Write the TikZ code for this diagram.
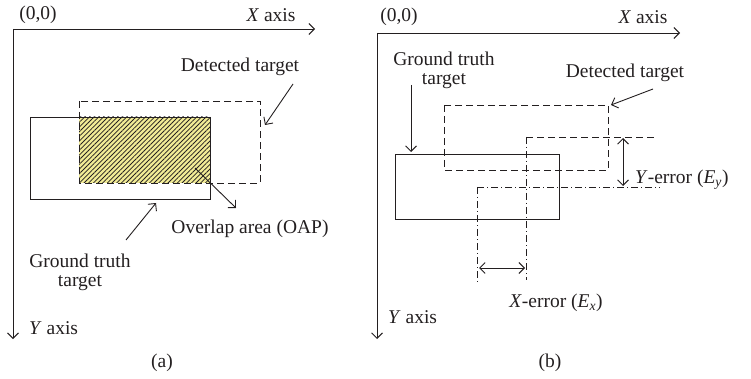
\documentclass[tikz,border=0pt]{standalone}
\usepackage{fontspec}
\setmainfont{Liberation Serif}
\usetikzlibrary{arrows.meta,patterns.meta}
\definecolor{ink}{HTML}{231F20}
\definecolor{hatchyellow}{HTML}{F2EC96}
\tikzset{
  lbl/.style={text=ink, font=\fontsize{19.5}{22}\selectfont, inner sep=0pt},
  thinline/.style={draw=ink, line width=0.9pt},
  barb/.style={thinline, -{Straight Barb[length=5.5pt,width=11pt,line width=0.9pt]}},
  dbarb/.style={thinline, {Straight Barb[length=5.5pt,width=11pt,line width=0.9pt]}-{Straight Barb[length=5.5pt,width=11pt,line width=0.9pt]}},
  dashbox/.style={thinline, dash pattern=on 7pt off 4pt},
  dashdotline/.style={thinline, dash pattern=on 7pt off 3pt on 1pt off 3pt},
}
\begin{document}
\begin{tikzpicture}[x=1pt,y=-1pt]
\useasboundingbox (0,0) rectangle (751,379);
% ---------------- panel (a) ----------------
\coordinate (oa) at (13,29);
\coordinate (xa) at (315,29);
\coordinate (ya) at (13,339);
\draw[barb] (oa) -- (xa);
\draw[barb] (oa) -- (ya);
\node[lbl] (oalbl) at (38,15) {(0,0)};
\node[lbl] (xalbl) at (271,15) {\textit{X} axis};
\node[lbl, anchor=west] (yalbl) at (29,328) {\textit{Y} axis};
\node[lbl] (capa) at (162,363) {(a)};
% overlap hatch
\fill[hatchyellow] (79,117) rectangle (210,183);
\fill[pattern={Lines[angle=45,distance=3.3pt,line width=0.8pt]}, pattern color=ink] (79,117) rectangle (210,183);
% ground truth (solid) and detected (dashed)
\draw[thinline] (30,117) rectangle (210,199);
\draw[dashbox] (79,101) rectangle (260,183);
\node[lbl] (deta) at (240,67) {Detected target};
\coordinate (detaS) at (293,84);
\coordinate (detaE) at (265,125);
\draw[barb] (detaS) -- (detaE);
\node[lbl] (oap) at (250,229) {Overlap area (OAP)};
\coordinate (oapS) at (195,168);
\coordinate (oapE) at (236,208);
\draw[barb] (oapS) -- (oapE);
\node[lbl, align=center] (gta) at (80,272) {Ground truth\\[-3pt]target};
\coordinate (gtaS) at (126,240);
\coordinate (gtaE) at (156,203);
\draw[barb] (gtaS) -- (gtaE);
% ---------------- panel (b) ----------------
\coordinate (ob) at (377,33);
\coordinate (xb) at (680,33);
\coordinate (yb) at (377,339);
\draw[barb] (ob) -- (xb);
\draw[barb] (ob) -- (yb);
\node[lbl] (oblbl) at (399,17) {(0,0)};
\node[lbl] (xblbl) at (643,17) {\textit{X} axis};
\node[lbl, anchor=west] (yblbl) at (388,317) {\textit{Y} axis};
\node[lbl] (capb) at (550,363) {(b)};
\node[lbl, align=center] (gtb) at (444,70) {Ground truth\\[-3pt]target};
\coordinate (gtbS) at (411,85);
\coordinate (gtbE) at (411,152);
\draw[barb] (gtbS) -- (gtbE);
\draw[thinline] (395,154) rectangle (559,219);
\draw[dashbox] (444,105) rectangle (608,170);
\node[lbl] (detb) at (625,73) {Detected target};
\coordinate (detbS) at (653,89);
\coordinate (detbE) at (611,105);
\draw[barb] (detbS) -- (detbE);
% reference lines
\coordinate (ra) at (526,137);
\coordinate (rb) at (655,137);
\coordinate (rc) at (526,280);
\draw[dashbox] (ra) -- (rb);
\draw[dashdotline] (ra) -- (rc);
\coordinate (sa) at (477,187);
\coordinate (sb) at (660,187);
\coordinate (sc) at (477,282);
\draw[dashdotline] (sa) -- (sb);
\draw[dashdotline] (sa) -- (sc);
\coordinate (eyT) at (623,138);
\coordinate (eyB) at (623,186);
\draw[dbarb] (eyT) -- (eyB);
\coordinate (exL) at (479,268);
\coordinate (exR) at (525,268);
\draw[dbarb] (exL) -- (exR);
\node[lbl, anchor=west] (eylbl) at (635,180) {\textit{Y}-error (\textit{E}\textsubscript{\textit{y}})};
\node[lbl] (exlbl) at (556,303) {\textit{X}-error (\textit{E}\textsubscript{\textit{x}})};
\end{tikzpicture}
\end{document}
